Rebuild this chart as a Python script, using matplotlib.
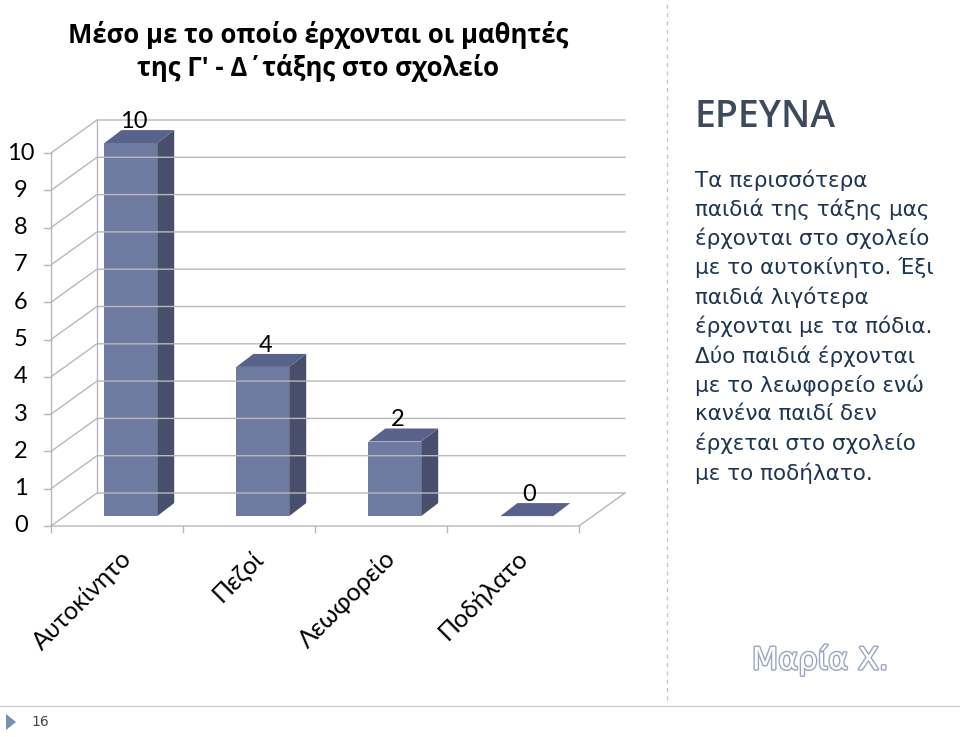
import matplotlib.pyplot as plt
import matplotlib.patheffects as pe
from matplotlib.patches import Polygon

categories = ["Αυτοκίνητο", "Πεζοί", "Λεωφορείο", "Ποδήλατο"]
values = [10, 4, 2, 0]
yticks = list(range(0, 11))

W, H = 960, 737
X0, Y0 = 51, 526          # pixel of front-left floor corner
SX, SY = 132.0, 37.3      # pixels per category / per unit

DX, DY = 46 / SX, 33 / SY          # wall depth in data units
PX, PY = 0.3 * DX, 0.3 * DY        # bar plane offset
BX, BY = 17 / SX, 13 / SY          # bar depth
BW = 0.4

GRID = "#b8b8b8"
FRONT = "#6f7aa0"
SIDE = "#474f6d"
TOP = "#58628a"
LBL = "Lato"

fig = plt.figure(figsize=(W / 100, H / 100), dpi=100)
ax = fig.add_axes([0, 0, 1, 1])
ax.set_xlim((0 - X0) / SX, (W - X0) / SX)
ax.set_ylim((Y0 - H) / SY, Y0 / SY)
ax.axis("off")

n = len(categories)
# walls and floor
for v in yticks:
    ax.plot([0, DX, n + DX], [v, v + DY, v + DY], color=GRID, lw=1)
    ax.plot([-0.05, 0], [v, v], color=GRID, lw=1)
    ax.text(-0.23, v, str(v), ha="center", va="center", fontsize=17, color="black", family=LBL)
ax.plot([0, 0], [0, 10], color=GRID, lw=1)
ax.plot([DX, DX], [DY, 10 + DY], color=GRID, lw=1)
ax.plot([0, n, n + DX], [0, 0, DY], color=GRID, lw=1)
for i in range(n + 1):
    ax.plot([i, i], [0, -0.15], color=GRID, lw=1)

# bars
for i, (cat, v) in enumerate(zip(categories, values)):
    x = i + 0.5 - BW / 2 + PX
    y = PY
    ax.add_patch(Polygon([(x + BW, y), (x + BW + BX, y + BY), (x + BW + BX, y + v + BY), (x + BW, y + v)],
                         closed=True, fc=SIDE, ec="none"))
    ax.add_patch(Polygon([(x, y + v), (x + BW, y + v), (x + BW + BX, y + v + BY), (x + BX, y + v + BY)],
                         closed=True, fc=TOP, ec="none"))
    if v > 0:
        ax.add_patch(Polygon([(x, y), (x + BW, y), (x + BW, y + v), (x, y + v)],
                             closed=True, fc=FRONT, ec="none"))
    ax.text(x + BW / 2 + 0.02, y + v + BY - 0.05, str(v), ha="center", va="bottom", fontsize=17, family=LBL)
    ax.text(i + 0.52, -0.55, cat, rotation=45, ha="right", va="top",
            fontsize=18, color="black", rotation_mode="anchor", family=LBL)

ft = fig.transFigure
fig.text(318 / W, 1 - 35 / H, "Μέσο με το οποίο έρχονται οι μαθητές", ha="center", va="center",
         fontsize=18.5, fontweight="bold", family="Open Sans")
fig.text(318 / W, 1 - 68 / H, "της Γ' - Δ΄τάξης στο σχολείο", ha="center", va="center",
         fontsize=18.5, fontweight="bold", family="Open Sans")

# right panel
fig.add_artist(plt.Line2D([667 / W, 667 / W], [1 - 700 / H, 1], transform=ft, color="#c8c8c8", lw=1, ls=(0, (3, 3))))
fig.text(695 / W, 1 - 117 / H, "ΕΡΕΥΝΑ", ha="left", va="center", fontsize=27, color="#3d4a5c",
         fontweight="semibold", family="Open Sans")
body = ["Τα περισσότερα", "παιδιά της τάξης μας", "έρχονται στο σχολείο", "με το αυτοκίνητο. Έξι",
        "παιδιά λιγότερα", "έρχονται με τα πόδια.", "Δύο παιδιά έρχονται", "με το λεωφορείο ενώ",
        "κανένα παιδί δεν", "έρχεται στο σχολείο", "με το ποδήλατο."]
for k, line in enumerate(body):
    fig.text(695 / W, 1 - (180 + k * 29.3) / H, line, ha="left", va="center", fontsize=15.5, color="#1e3550")
fig.text(820 / W, 1 - 660 / H, "Μαρία Χ.", ha="center", va="center", fontsize=22,
         color="white", path_effects=[pe.withStroke(linewidth=2, foreground="#9aa6c0")])

# footer
fig.add_artist(plt.Line2D([0, 1], [1 - 706 / H, 1 - 706 / H], transform=ft, color="#d0d0d0", lw=1))
fig.add_artist(Polygon([(6 / W, 1 - 714 / H), (6 / W, 1 - 730 / H), (16 / W, 1 - 722 / H)],
                       closed=True, transform=ft, fc="#7b8fb0", ec="none"))
fig.text(40 / W, 1 - 722 / H, "16", ha="center", va="center", fontsize=10, color="#444")

fig.savefig("out.png", dpi=100)
